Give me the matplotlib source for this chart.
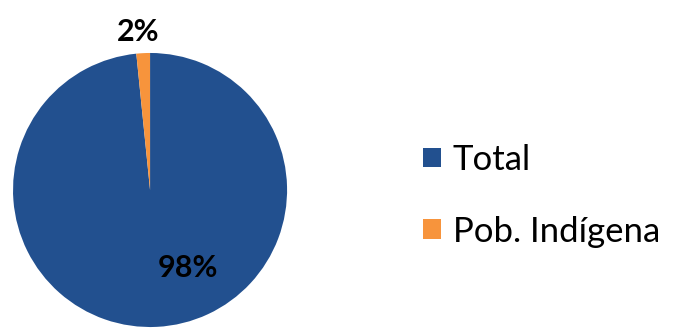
import matplotlib.pyplot as plt

labels = ["Total", "Pob. Indígena"]
values = [98.4, 1.6]
colors = ["#22508F", "#F7943C"]

plt.rcParams['font.family'] = ['Lato', 'DejaVu Sans']

fig = plt.figure(figsize=(6.75, 3.29), dpi=100)
ax = fig.add_axes([0.0193, 0.006, 0.406, 0.833])

wedges, texts, autotexts = ax.pie(values, colors=colors, startangle=90, counterclock=False,
                                  autopct='%.0f%%', pctdistance=0.65,
                                  textprops={'fontsize': 22, 'fontweight': 'bold', 'color': 'black'})
ax.set_xlim(-1, 1)
ax.set_ylim(-1, 1)
ax.set_aspect('equal')

# move labels like the original
autotexts[0].set_position((0.28, -0.57))
autotexts[1].set_position((-0.09, 1.15))
for t in autotexts:
    t.set_clip_on(False)

leg = fig.legend(wedges, labels, loc='center left', bbox_to_anchor=(0.627, 0.405),
                 frameon=False, fontsize=25, handlelength=0.5, handleheight=0.5,
                 handletextpad=0.35, labelspacing=1.15, borderpad=0, borderaxespad=0)

fig.savefig("out.png", dpi=100)
